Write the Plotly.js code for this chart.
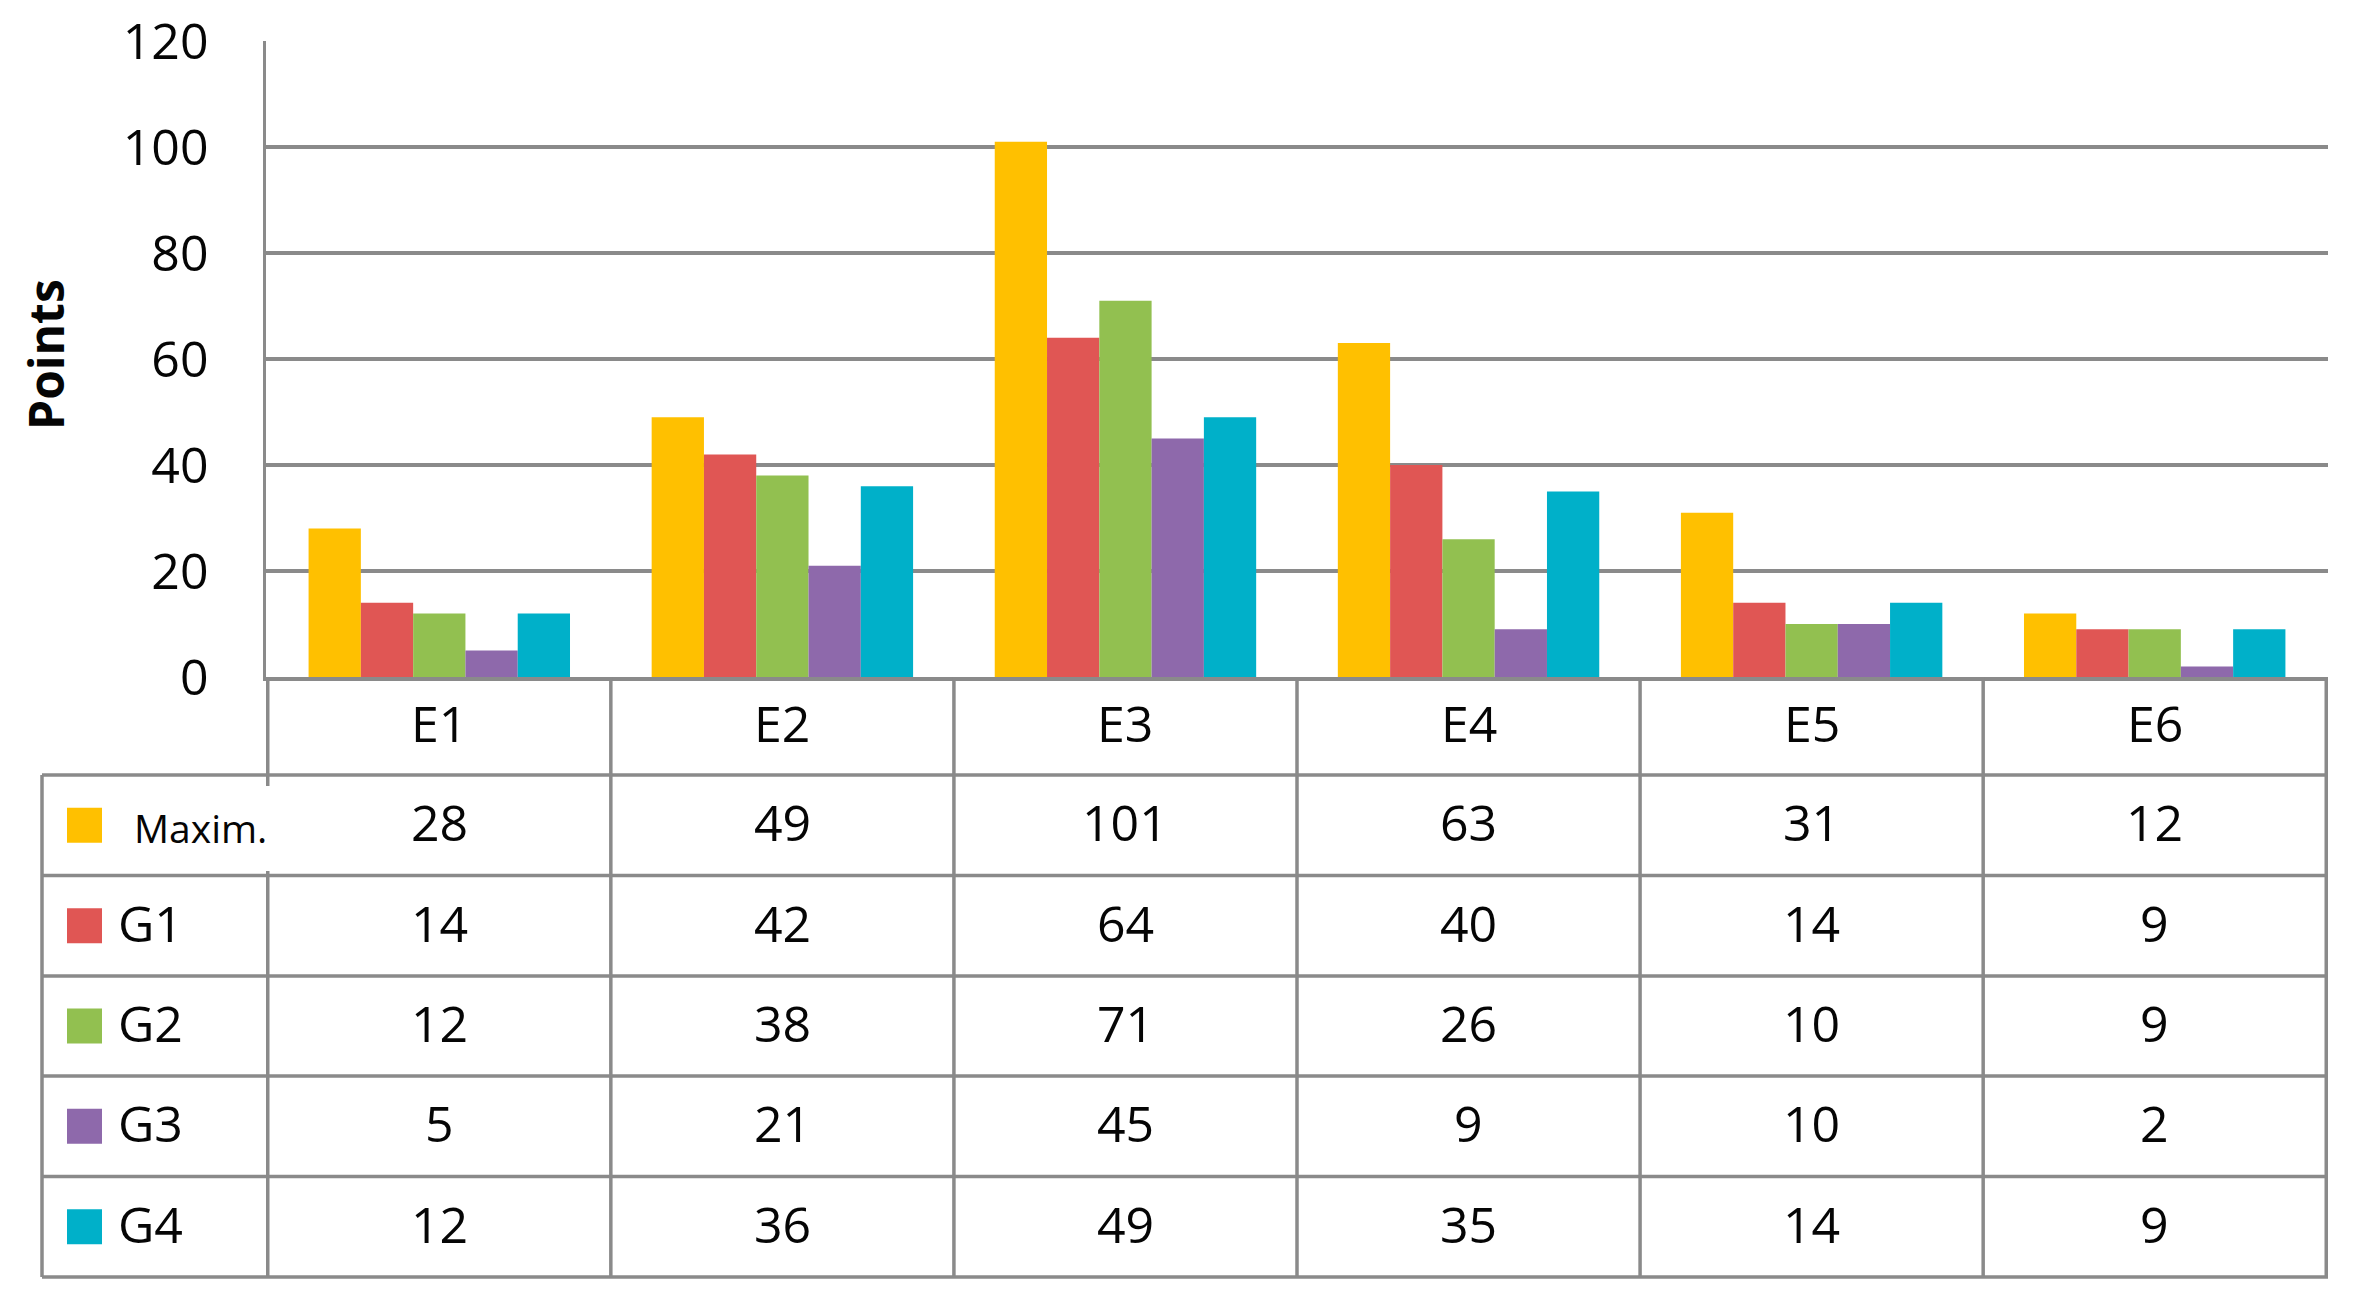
<!DOCTYPE html>
<html>
<head>
<meta charset="utf-8">
<script src="https://cdn.plot.ly/plotly-3.0.1.min.js"></script>
<style>html,body{margin:0;padding:0;background:#fff;}#chart{width:2360px;height:1299px;}</style>
</head>
<body>
<div id="chart"></div>
<script>
// ---- data ----
const categories = ["E1", "E2", "E3", "E4", "E5", "E6"];
const seriesNames = ["Maxim.", "G1", "G2", "G3", "G4"];
const maxim = [28, 49, 101, 63, 31, 12];
const g1 = [14, 42, 64, 40, 14, 9];
const g2 = [12, 38, 71, 26, 10, 9];
const g3 = [5, 21, 45, 9, 10, 2];
const g4 = [12, 36, 49, 35, 14, 9];
const yTicks = [0, 20, 40, 60, 80, 100, 120];
const seriesValues = [maxim, g1, g2, g3, g4];
const seriesColors = ["#FFC000", "#E05654", "#92C050", "#8E69AB", "#00B0C9"];

// ---- geometry (pixels) ----
const W = 2360, H = 1299;
const L = 266, R = 2328, T = 41, B = 677;
const PW = R - L, PH = B - T;
const px = p => (p - L) / PW;          // pixel x -> paper
const py = p => (B - p) / PH;          // pixel y -> paper
const rowLines = [775, 875.5, 976, 1076, 1176.5, 1277];
const headerCenter = (B + rowLines[0]) / 2 - 3;
const tableLeft = 42;
const grey = "#8a8a8a";
const lw = 3.5;
const font = "Open Sans, Noto Sans, sans-serif";
const txt = "#050505";

const traces = seriesValues.map((vals, i) => ({
  type: "bar",
  name: seriesNames[i],
  x: categories,
  y: vals,
  marker: {color: seriesColors[i], line: {width: 0}},
  hoverinfo: "skip"
}));

const shapes = [];
const annotations = [];

// horizontal table lines
rowLines.forEach(r => {
  shapes.push({type: "line", xref: "paper", yref: "paper", x0: px(tableLeft), x1: 1, y0: py(r), y1: py(r),
    line: {color: grey, width: lw}, layer: "above"});
});
// table outer left border
shapes.push({type: "line", xref: "paper", yref: "paper", x0: px(tableLeft), x1: px(tableLeft),
  y0: py(rowLines[0]), y1: py(rowLines[rowLines.length - 1]), line: {color: grey, width: lw}});
// column boundaries
for (let k = 0; k <= categories.length; k++) {
  const xc = k - 0.5;
  if (k === 0) {
    // broken by the "Maxim." label
    shapes.push({type: "line", xref: "x", yref: "paper", x0: xc, x1: xc, y0: py(B), y1: py(786),
      line: {color: grey, width: lw}});
    shapes.push({type: "line", xref: "x", yref: "paper", x0: xc, x1: xc, y0: py(871), y1: py(rowLines[rowLines.length - 1]),
      line: {color: grey, width: lw}});
  } else {
    shapes.push({type: "line", xref: "x", yref: "paper", x0: xc, x1: xc, y0: py(B), y1: py(rowLines[rowLines.length - 1]),
      line: {color: grey, width: lw}});
  }
}

// header labels
categories.forEach((c, j) => {
  annotations.push({xref: "x", yref: "paper", x: c, y: py(headerCenter), text: c, showarrow: false,
    xanchor: "center", yanchor: "middle", font: {family: font, size: 50, color: txt}});
});

// rows: legend keys, names, values
seriesValues.forEach((vals, i) => {
  const top = rowLines[i], bot = rowLines[i + 1];
  const mid = (top + bot) / 2;
  shapes.push({type: "rect", xref: "paper", yref: "paper", x0: px(67), x1: px(102), y0: py(mid + 17.5), y1: py(mid - 17.5),
    fillcolor: seriesColors[i], line: {width: 0}});
  const isMax = i === 0;
  annotations.push({xref: "paper", yref: "paper", x: px(isMax ? 132 : 116), y: py(mid + (isMax ? 2 : -3)),
    text: seriesNames[i], showarrow: false, xanchor: "left", yanchor: "middle",
    font: {family: font, size: isMax ? 39 : 50, color: txt}});
  vals.forEach((v, j) => {
    annotations.push({xref: "x", yref: "paper", x: categories[j], y: py(mid - 3), text: String(v), showarrow: false,
      xanchor: "center", yanchor: "middle", font: {family: font, size: 50, color: txt}});
  });
});

// y axis title
annotations.push({xref: "paper", yref: "paper", x: px(45), y: py(355), text: "<b>Points</b>", textangle: -90,
  showarrow: false, xanchor: "center", yanchor: "middle", font: {family: font, size: 48, color: txt}});

const layout = {
  width: W, height: H,
  margin: {l: L, r: W - R, t: T, b: H - B, pad: 0},
  paper_bgcolor: "#fff", plot_bgcolor: "#fff",
  showlegend: false,
  barmode: "group", bargap: 0.238, bargroupgap: 0,
  font: {family: font, color: txt},
  xaxis: {type: "category", categoryorder: "array", categoryarray: categories,
    showticklabels: false, ticks: "", showgrid: false, zeroline: false,
    showline: true, linecolor: grey, linewidth: lw, fixedrange: true},
  yaxis: {range: [0, 120], tickvals: yTicks, ticktext: yTicks.map(String),
    showgrid: true, gridcolor: grey, gridwidth: lw, zeroline: false,
    showline: true, linecolor: grey, linewidth: lw, ticks: "", ticklabelstandoff: 44,
    tickfont: {family: font, size: 50, color: txt}, fixedrange: true, automargin: false},
  shapes: shapes,
  annotations: annotations
};

Plotly.newPlot("chart", traces, layout, {staticPlot: true, displayModeBar: false});
</script>
</body>
</html>
